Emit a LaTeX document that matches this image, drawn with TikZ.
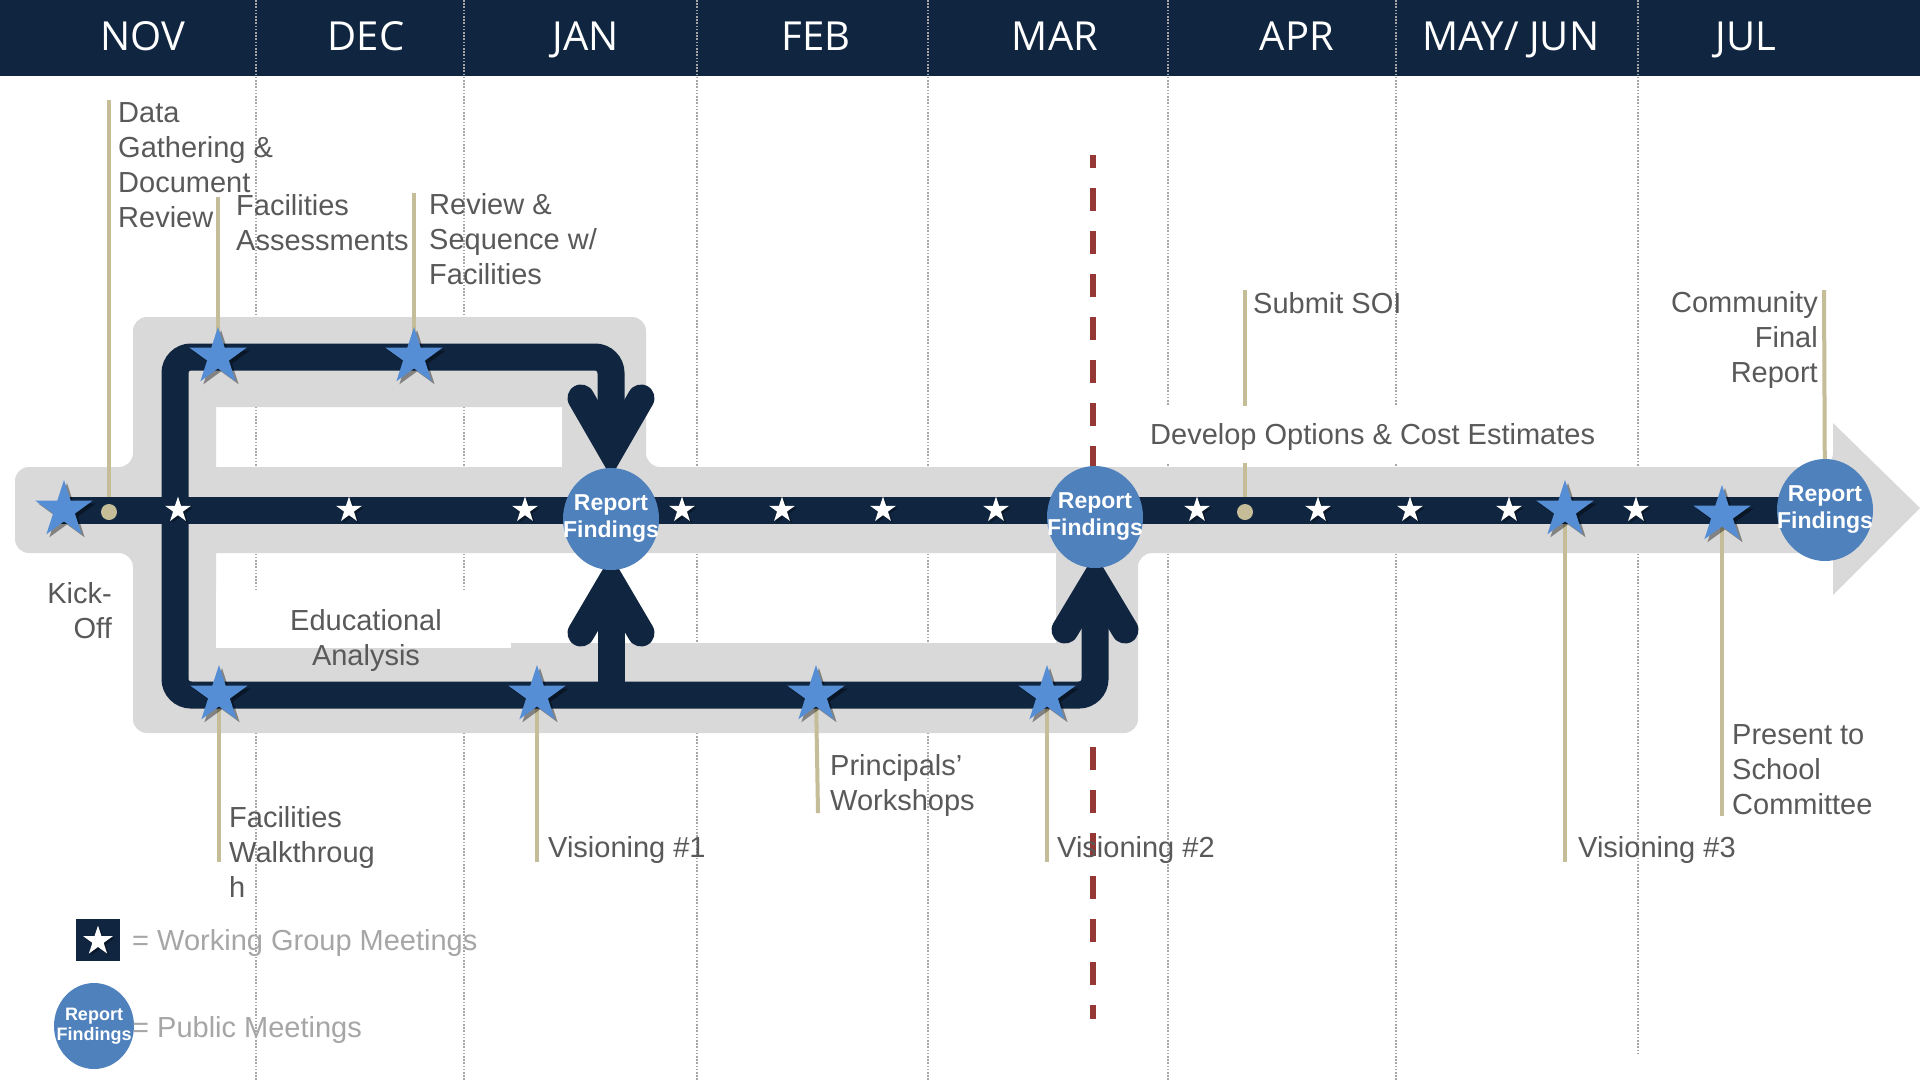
\documentclass[tikz,border=0pt]{standalone}
\usepackage{fontspec}
\setmainfont{Liberation Sans}
\newfontfamily\monthfont{Open Sans}
\usetikzlibrary{shapes.geometric,shadows}
\definecolor{navy}{HTML}{10253F}
\definecolor{bandgray}{HTML}{D9D9D9}
\definecolor{starblue}{HTML}{558ED5}
\definecolor{circblue}{HTML}{4F81BD}
\definecolor{tanline}{HTML}{C4BD97}
\definecolor{txtgray}{HTML}{595959}
\definecolor{leggray}{HTML}{A6A6A6}
\definecolor{dotgray}{HTML}{A6A6A6}
\definecolor{dashred}{HTML}{953735}
\newcommand\lstack[1]{\begin{tabular}[t]{@{}l@{}}#1\end{tabular}}
\newcommand\rstack[1]{\begin{tabular}[t]{@{}r@{}}#1\end{tabular}}
\newcommand\cstack[1]{\begin{tabular}[t]{@{}c@{}}#1\end{tabular}}
\newcommand\rftext{\makebox[0pt]{\begin{tabular}{@{}c@{}}Report\\Findings\end{tabular}}}
\tikzset{
  bigstar/.style={star, star points=5, star point ratio=2.618, minimum size=60pt, inner sep=0pt, fill=starblue,
    drop shadow={shadow xshift=3pt, shadow yshift=-3pt, opacity=0.4, fill=black}},
  smallstar/.style={star, star points=5, star point ratio=2.618, minimum size=27pt, inner sep=0pt, fill=white,
    drop shadow={shadow xshift=2pt, shadow yshift=-2pt, opacity=0.35, fill=black}},
  findings/.style={ellipse, fill=circblue, minimum width=96pt, minimum height=102pt, inner sep=0pt,
    text=white, font=\bfseries\fontsize{23}{27}\selectfont},
  lab/.style={inner sep=0pt, text=txtgray, font=\fontsize{29}{35}\selectfont},
  month/.style={text=white, font=\monthfont\fontsize{40}{48}\selectfont, anchor=base, inner sep=0pt},
  leader/.style={draw=tanline, line width=4pt},
  monthsep/.style={draw=dotgray, line width=1.3pt, dash pattern=on 1.6pt off 1.6pt},
  navyline/.style={draw=navy, line width=27pt},
  navyhead/.style={draw=navy, line width=27pt, line cap=round, line join=miter},
  tandot/.style={circle, fill=tanline, minimum size=16pt, inner sep=0pt},
}
\begin{document}
\begin{tikzpicture}[x=1pt,y=-1pt]
\useasboundingbox (0,0) rectangle (1920,1080);
\fill[white] (0,0) rectangle (1920,1080);
% header
\fill[navy] (0,0) rectangle (1920,76);
\node[month] (mNov) at (143,50) {NOV};
\node[month] (mDec) at (366,50) {DEC};
\node[month] (mJan) at (586,50) {JAN};
\node[month] (mFeb) at (816,50) {FEB};
\node[month] (mMar) at (1055,50) {MAR};
\node[month] (mApr) at (1297,50) {APR};
\node[month] (mMay) at (1511,50) {MAY/ JUN};
\node[month] (mJul) at (1746,50) {JUL};
% month separators
\foreach \xx in {256,464,697,928,1168,1396}{\draw[monthsep] (\xx,0) -- (\xx,1080);}
\draw[monthsep] (1638,0) -- (1638,1055);
% red dashed line
\coordinate (redT) at (1093,155);
\coordinate (redB) at (1093,1019);
\draw[dashred, line width=6pt, dash pattern=on 23pt off 20pt, dash phase=10pt] (redT) -- (redB);
% gray band and loop frame
\fill[bandgray, even odd rule] [rounded corners=14pt] (15,467) -- (133,467) -- (133,317) -- (646,317) -- (646,467) -- (1833,467)
  [sharp corners] -- (1833,423) -- (1920,508) -- (1833,595) -- (1833,553)
  [rounded corners=14pt] -- (1138,553) -- (1138,733) -- (133,733) -- (133,553) -- (15,553) -- cycle
  [sharp corners] (216,407) rectangle (562,467)
  (216,553) rectangle (1056,643);
% positions
\coordinate (kick) at (64,510);
\coordinate (fa) at (218,357);
\coordinate (rs) at (414,357);
\coordinate (fw) at (219,695);
\coordinate (v1) at (537,695);
\coordinate (pw) at (816,695);
\coordinate (v2) at (1047,695);
\coordinate (v3) at (1565,510);
\coordinate (ps) at (1722,515);
\coordinate (rf1) at (611,519);
\coordinate (rf2) at (1095,517);
\coordinate (rf3) at (1825,510);
\coordinate (dA) at (109,512);
\coordinate (dB) at (1245,512);
% leader ends
\coordinate (dgT) at (109,100);
\coordinate (faT) at (218,197);
\coordinate (rsT) at (414,193);
\coordinate (soiT) at (1245,290);
\coordinate (cfT) at (1824,290);
\coordinate (fwB) at (219,862);
\coordinate (v1B) at (537,862);
\coordinate (pwB) at (818,813);
\coordinate (v2B) at (1047,862);
\coordinate (v3B) at (1565,862);
\coordinate (psB) at (1722,816);
% leaders
\draw[leader] (dgT) -- (dA);
\draw[leader] (faT) -- (fa);
\draw[leader] (rsT) -- (rs);
\draw[leader] (soiT) -- (dB);
\draw[leader] (cfT) -- (rf3);
\draw[leader] (fw) -- (fwB);
\draw[leader] (v1) -- (v1B);
\draw[leader] (pw) -- (pwB);
\draw[leader] (v2) -- (v2B);
\draw[leader] (v3) -- (v3B);
\draw[leader] (ps) -- (psB);
% white text boxes
\fill[white] (216,590) rectangle (511,648);
\fill[white] (1140,406) rectangle (1620,463);
% navy paths
\draw[navyline] (60,510) -- (1800,510);
\draw[navyline, rounded corners=16pt] (611,445) -- (611,357) -- (175,357) -- (175,695) -- (1095,695) -- (1095,585);
\draw[navyline] (611,695) -- (611,585);
\draw[navyhead] (581,398) -- (611,450) -- (641,398);
\draw[navyhead] (581,633) -- (611,582) -- (641,633);
\draw[navyhead] (1065,630) -- (1095,580) -- (1125,630);
% tan dots
\node[tandot] (dotA) at (dA) {};
\node[tandot] (dotB) at (dB) {};
% small white stars
\foreach \xx [count=\i] in {178,349,525,682,782,883,996,1197,1318,1410,1509,1636}{
  \node[smallstar] (w\i) at (\xx,510) {};}
% big stars
\node[bigstar] (sKick) at (kick) {};
\node[bigstar] (sFA) at (fa) {};
\node[bigstar] (sRS) at (rs) {};
\node[bigstar] (sFW) at (fw) {};
\node[bigstar] (sV1) at (v1) {};
\node[bigstar] (sPW) at (pw) {};
\node[bigstar] (sV2) at (v2) {};
\node[bigstar] (sV3) at (v3) {};
\node[bigstar] (sPS) at (ps) {};
% report findings circles
\node[findings] (rfJan) at (rf1) {\rftext};
\node[findings] (rfMar) at (rf2) {\rftext};
\node[findings] (rfJul) at (rf3) {\rftext};
% labels
\node[lab, anchor=base west] (tDG) at (118,122) {\lstack{Data\\Gathering \&\\Document\\Review}};
\node[lab, anchor=base west] (tFA) at (236,215) {\lstack{Facilities\\Assessments}};
\node[lab, anchor=base west] (tRS) at (429,214) {\lstack{Review \&\\Sequence w/\\Facilities}};
\node[lab, anchor=base east] (tKO) at (112,603) {\rstack{Kick-\\Off}};
\node[lab, anchor=base] (tEA) at (366,630) {\cstack{Educational\\Analysis}};
\node[lab, anchor=base west] (tFW) at (229,827) {\lstack{Facilities\\Walkthroug\\h}};
\node[lab, anchor=base west] (tV1) at (548,857) {Visioning \#1};
\node[lab, anchor=base west] (tPW) at (830,775) {\lstack{Principals’\\Workshops}};
\node[lab, anchor=base west] (tV2) at (1057,857) {Visioning \#2};
\node[lab, anchor=base west] (tV3) at (1578,857) {Visioning \#3};
\node[lab, anchor=base west] (tPS) at (1732,744) {\lstack{Present to\\School\\Committee}};
\node[lab, anchor=base west] (tSOI) at (1253,313) {Submit SOI};
\node[lab, anchor=base west] (tDO) at (1150,444) {Develop Options \& Cost Estimates};
\node[lab, anchor=base east] (tCF) at (1818,312) {\rstack{Community\\Final\\Report}};
% legend
\node[fill=navy, minimum width=44pt, minimum height=42pt, inner sep=0pt] (legsq) at (98,940) {};
\node[smallstar, minimum size=31pt] (legstar) at (98,941) {};
\node[lab, text=leggray, anchor=base west] (legwg) at (132,950) {= Working Group Meetings};
\node[findings, minimum width=80pt, minimum height=86pt, font=\bfseries\fontsize{18}{20}\selectfont] (legrf) at (94,1026) {\rftext};
\node[lab, text=leggray, anchor=base west] (legpm) at (132,1037) {= Public Meetings};
\end{tikzpicture}
\end{document}
